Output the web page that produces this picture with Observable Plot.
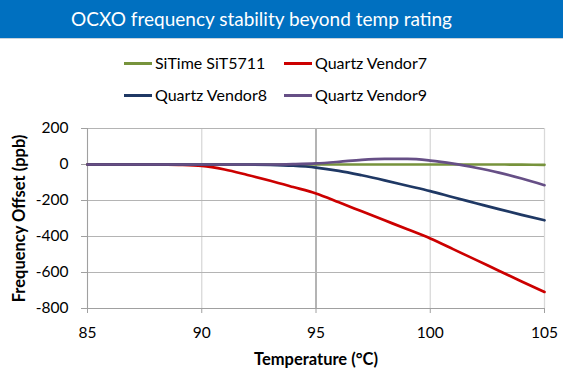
<!DOCTYPE html>
<html>
<head>
<meta charset="utf-8">
<script src="https://cdn.jsdelivr.net/npm/d3@7"></script>
<script src="https://cdn.jsdelivr.net/npm/@observablehq/plot@0.6"></script>
<style>
  html, body { margin: 0; padding: 0; background: #fff; }
  body { width: 563px; height: 376px; position: relative; overflow: hidden; font-family: Lato, "Open Sans", sans-serif; }
  #title { position: absolute; left: 0; top: 0; width: 523px; padding-right: 40px; height: 38px; background: #0070C0; border-bottom: 1px solid #c8d3dc;
    color: #fff; font-size: 19px; text-align: center; line-height: 37px; }
  .leg { position: absolute; font-size: 16px; color: #000; line-height: 20px; white-space: nowrap; }
  .leg span.sw { display: inline-block; width: 28px; height: 3px; vertical-align: middle; margin-right: 3px; position: relative; top: -1px; }
  #chart { position: absolute; left: 0; top: 110px; }
  #chart g[aria-label="y-axis label"] text, #chart g[aria-label="x-axis label"] text { font-weight: bold; font-size: 16.5px; }
  #chart g[aria-label="y-axis tick label"] text, #chart g[aria-label="x-axis tick label"] text { font-size: 15.5px; }
</style>
</head>
<body>
<div id="title">OCXO frequency stability beyond temp rating</div>
<div id="legend"></div>
<div id="chart"></div>
<script>
const temps   = [85, 86, 87, 88, 89, 90, 91, 92, 93, 94, 95, 96, 97, 98, 99, 100, 101, 102, 103, 104, 105];
const sitime  = [0, 0, 0, 0, 0, 0, 0, 0, 0, 0, 0, 0, 0, 0, 0, 0, 0, 0, 0, -1, -2];
const vendor7 = [0, 0, 0, 0, -2, -8, -28, -58, -90, -125, -161, -210, -260, -310, -360, -411, -470, -530, -590, -650, -708];
const vendor8 = [0, 0, 0, 0, 0, 0, 0, 0, -2, -7, -17, -35, -60, -88, -118, -148, -182, -215, -248, -280, -310];
const vendor9 = [0, 0, 0, 0, 0, 0, 0, 0, 0, 2, 6, 15, 26, 31, 31, 22, 5, -18, -45, -78, -115];
const seriesNames = ["SiTime SiT5711", "Quartz Vendor7", "Quartz Vendor8", "Quartz Vendor9"];
const seriesColors = ["#77933C", "#CC0000", "#1F3864", "#664F86"];
const xTicks = [85, 90, 95, 100, 105];
const yTicks = [200, 0, -200, -400, -600, -800];

const seriesValues = [sitime, vendor7, vendor8, vendor9];
const rows = [];
seriesNames.forEach((name, i) => temps.forEach((t, j) => rows.push({series: name, t, v: seriesValues[i][j]})));

// legend
const legendPos = [[124, 53], [284, 53], [124, 85], [284, 85]];
const legend = document.getElementById("legend");
seriesNames.forEach((name, i) => {
  const d = document.createElement("div");
  d.className = "leg";
  d.style.left = legendPos[i][0] + "px";
  d.style.top = legendPos[i][1] + "px";
  d.innerHTML = `<span class="sw" style="background:${seriesColors[i]}"></span>${name}`;
  legend.appendChild(d);
});

const chart = Plot.plot({
  width: 563,
  height: 266,
  marginTop: 18,
  marginBottom: 68,
  marginLeft: 87,
  marginRight: 19,
  style: {fontSize: "15px", fontFamily: "Lato, 'Open Sans', sans-serif", color: "#000", background: "transparent"},
  x: {domain: [85, 105]},
  y: {domain: [-800, 200]},
  color: {domain: seriesNames, range: seriesColors},
  marks: [
    Plot.ruleX(xTicks, {stroke: d => d === 95 ? "#8c8c8c" : "#d9d9d9", strokeWidth: 1.3}),
    Plot.ruleY(yTicks, {stroke: "#b4b4b4", strokeWidth: 1.2}),
    Plot.axisX(xTicks, {tickSize: 5, tickPadding: 13, stroke: "#a0a0a0", label: "Temperature (°C)", labelArrow: "none", labelAnchor: "center", labelOffset: 56, tickFormat: d => String(d)}),
    Plot.axisY(yTicks, {tickSize: 6, tickPadding: 13, stroke: "#a0a0a0", label: "Frequency Offset (ppb)", labelArrow: "none", labelAnchor: "center", labelOffset: 74, tickFormat: d => d < 0 ? "-" + Math.abs(d) : String(d)}),
    Plot.ruleY([-800], {stroke: "#a0a0a0", strokeWidth: 1.2}),
    Plot.ruleX([85], {stroke: "#a0a0a0", strokeWidth: 1}),
    Plot.line(rows, {x: "t", y: "v", z: "series", stroke: "series", strokeWidth: 2.7, curve: "monotone-x"})
  ]
});
document.getElementById("chart").appendChild(chart);
</script>
</body>
</html>
